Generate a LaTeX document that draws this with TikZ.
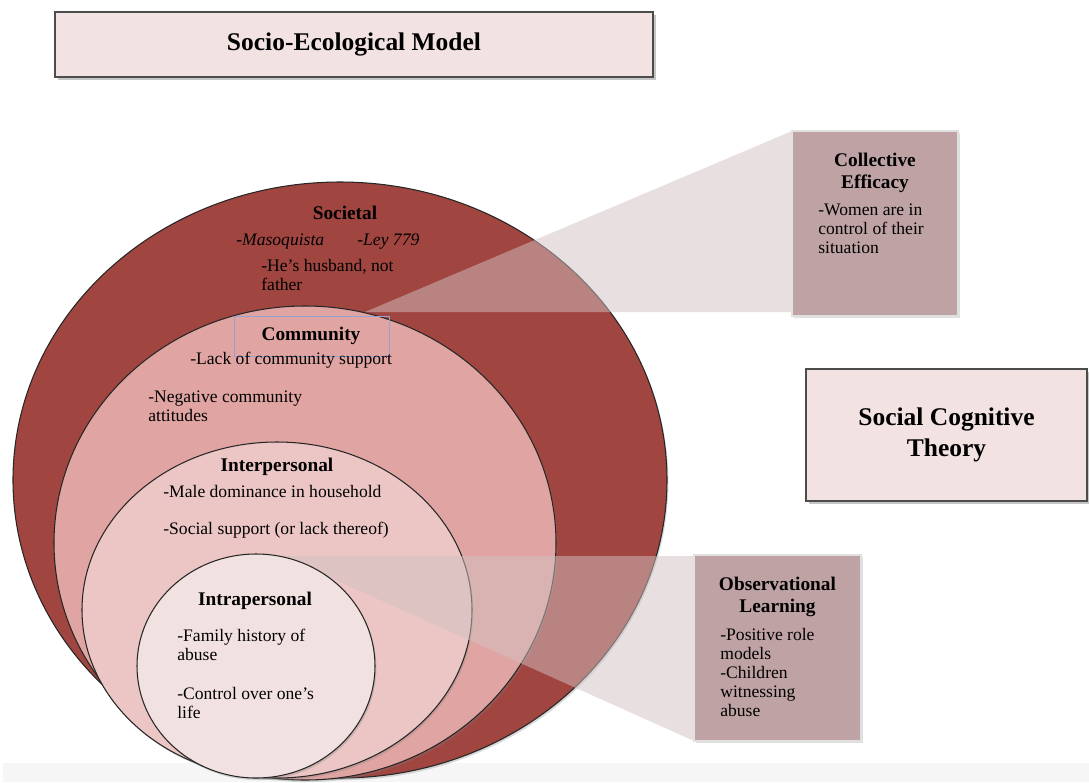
\documentclass[tikz,border=0pt]{standalone}
\usepackage{fontspec}
\setmainfont{Liberation Serif}
\usetikzlibrary{shadows}

\definecolor{societal}{HTML}{A04540}
\definecolor{community}{HTML}{E0A5A2}
\definecolor{interpers}{HTML}{EBC6C5}
\definecolor{intrapers}{HTML}{F2E1E1}
\definecolor{titlefill}{HTML}{F3E2E2}
\definecolor{cardfill}{HTML}{BFA2A4}
\definecolor{calloutfill}{RGB}{210,194,194}
\definecolor{labelframe}{HTML}{98A2D2}
\definecolor{floor}{HTML}{F6F6F6}

\newcommand{\pxl}{0.02cm}

\tikzset{
  ring/.style={draw=black!85, line width=0.6pt,
    drop shadow={shadow xshift=0.8pt, shadow yshift=-1.2pt, opacity=0.3}},
  titlebox/.style={draw=black!70, fill=titlefill, line width=0.7pt, inner sep=0pt,
    drop shadow={shadow xshift=1.5pt, shadow yshift=-1.5pt, opacity=0.45}},
  card/.style={draw=black!12, fill=cardfill, line width=0.8pt, inner sep=0pt,
    drop shadow={shadow xshift=1pt, shadow yshift=-1pt, opacity=0.25}},
  callout/.style={fill=calloutfill, fill opacity=0.5},
  head/.style={font=\bfseries\fontsize{11}{13}\selectfont, inner sep=0pt, anchor=base},
  line/.style={font=\fontsize{10}{10.8}\selectfont, inner sep=0pt, anchor=base west},
  block/.style={font=\fontsize{10}{10.8}\selectfont, inner sep=0pt, anchor=north west, align=left},
  cardhead/.style={font=\bfseries\fontsize{11}{12.3}\selectfont, inner sep=0pt, anchor=north, align=center},
}

\begin{document}
\begin{tikzpicture}[x=\pxl, y=-\pxl]
\useasboundingbox (0,0) rectangle (1089,782);
\fill[floor] (3,763) rectangle (1089,782);

% nested levels of the model
\draw[ring, fill=societal] (340,480) ellipse [x radius=327, y radius=298];
\draw[ring, fill=community] (305,543) ellipse [x radius=251, y radius=237];
\fill[callout] (365,312) -- (792,131) -- (792,312) -- cycle;
\draw[ring, fill=interpers] (277,610) ellipse [x radius=195, y radius=168];
\fill[callout] (282,556) -- (694,556) -- (694,741) -- cycle;
\draw[ring, fill=intrapers] (256,666) ellipse [x radius=119, y radius=112];

% boxes
\node[titlebox, minimum width=598*\pxl, minimum height=65*\pxl,
  font=\bfseries\fontsize{14.5}{17}\selectfont] (title) at (354,44.5) {Socio-Ecological Model};
\node[titlebox, minimum width=281*\pxl, minimum height=132*\pxl, align=center,
  font=\bfseries\fontsize{14.5}{17.6}\selectfont] (sct) at (946.5,435) {Social Cognitive\\Theory};
\node[card, minimum width=166*\pxl, minimum height=185*\pxl] (efficacy) at (875,223.5) {};
\node[card, minimum width=167*\pxl, minimum height=186*\pxl] (observe) at (777.5,648) {};

% societal
\node[head] (soc) at (345,219) {Societal};
\node[line, font=\itshape\fontsize{10}{10.8}\selectfont] (masoq) at (236,245) {-Masoquista};
\node[line, font=\itshape\fontsize{10}{10.8}\selectfont] (ley) at (357,245) {-Ley 779};
\node[block] (husband) at (261,259) {-He’s husband, not\\father};

% community
\node[draw=labelframe, line width=0.5pt, minimum width=155*\pxl, minimum height=40*\pxl] (comframe) at (311.5,336) {};
\node[head] (com) at (311,340) {Community};
\node[line] (lack) at (190,364) {-Lack of community support};
\node[block] (negative) at (148,391) {-Negative community\\attitudes};

% interpersonal
\node[head] (inter) at (277,471) {Interpersonal};
\node[line] (male) at (163,497) {-Male dominance in household};
\node[line] (support) at (163,534) {-Social support (or lack thereof)};

% intrapersonal
\node[head] (intra) at (255,605) {Intrapersonal};
\node[block] (family) at (177,629) {-Family history of\\abuse};
\node[block] (control) at (177,687) {-Control over one’s\\life};

% cards of the theory
\node[cardhead] (effhead) at (875,153) {Collective\\Efficacy};
\node[block] (women) at (818,204) {-Women are in\\control of their\\situation};
\node[cardhead] (obshead) at (777.5,577) {Observational\\Learning};
\node[block] (rolemodel) at (720,628) {-Positive role\\models\\-Children\\witnessing\\abuse};
\end{tikzpicture}
\end{document}
